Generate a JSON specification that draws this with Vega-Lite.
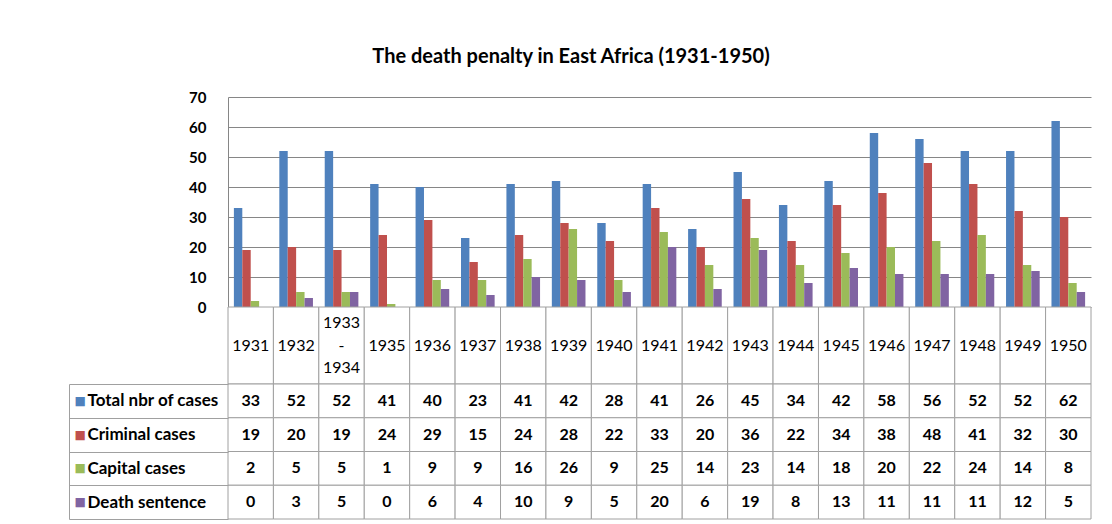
{
  "$schema": "https://vega.github.io/schema/vega-lite/v6.json",
  "background": "white",
  "padding": {"left": 68, "top": 47, "right": 22, "bottom": 2},
  "bounds": "flush",
  "title": {"text": "The death penalty in East Africa (1931-1950)", "fontSize": 20, "font": "Lato", "fontWeight": "bold", "color": "black", "offset": 23, "anchor": "middle", "dx": -9},
  "config": {"font": "Lato", "view": {"stroke": null}},
  "spacing": 0,
  "data": {"values": [
    {"year": "1931", "series": "Total nbr of cases", "value": 33},
    {"year": "1931", "series": "Criminal cases", "value": 19},
    {"year": "1931", "series": "Capital cases", "value": 2},
    {"year": "1931", "series": "Death sentence", "value": 0},
    {"year": "1932", "series": "Total nbr of cases", "value": 52},
    {"year": "1932", "series": "Criminal cases", "value": 20},
    {"year": "1932", "series": "Capital cases", "value": 5},
    {"year": "1932", "series": "Death sentence", "value": 3},
    {"year": "1933 - 1934", "series": "Total nbr of cases", "value": 52},
    {"year": "1933 - 1934", "series": "Criminal cases", "value": 19},
    {"year": "1933 - 1934", "series": "Capital cases", "value": 5},
    {"year": "1933 - 1934", "series": "Death sentence", "value": 5},
    {"year": "1935", "series": "Total nbr of cases", "value": 41},
    {"year": "1935", "series": "Criminal cases", "value": 24},
    {"year": "1935", "series": "Capital cases", "value": 1},
    {"year": "1935", "series": "Death sentence", "value": 0},
    {"year": "1936", "series": "Total nbr of cases", "value": 40},
    {"year": "1936", "series": "Criminal cases", "value": 29},
    {"year": "1936", "series": "Capital cases", "value": 9},
    {"year": "1936", "series": "Death sentence", "value": 6},
    {"year": "1937", "series": "Total nbr of cases", "value": 23},
    {"year": "1937", "series": "Criminal cases", "value": 15},
    {"year": "1937", "series": "Capital cases", "value": 9},
    {"year": "1937", "series": "Death sentence", "value": 4},
    {"year": "1938", "series": "Total nbr of cases", "value": 41},
    {"year": "1938", "series": "Criminal cases", "value": 24},
    {"year": "1938", "series": "Capital cases", "value": 16},
    {"year": "1938", "series": "Death sentence", "value": 10},
    {"year": "1939", "series": "Total nbr of cases", "value": 42},
    {"year": "1939", "series": "Criminal cases", "value": 28},
    {"year": "1939", "series": "Capital cases", "value": 26},
    {"year": "1939", "series": "Death sentence", "value": 9},
    {"year": "1940", "series": "Total nbr of cases", "value": 28},
    {"year": "1940", "series": "Criminal cases", "value": 22},
    {"year": "1940", "series": "Capital cases", "value": 9},
    {"year": "1940", "series": "Death sentence", "value": 5},
    {"year": "1941", "series": "Total nbr of cases", "value": 41},
    {"year": "1941", "series": "Criminal cases", "value": 33},
    {"year": "1941", "series": "Capital cases", "value": 25},
    {"year": "1941", "series": "Death sentence", "value": 20},
    {"year": "1942", "series": "Total nbr of cases", "value": 26},
    {"year": "1942", "series": "Criminal cases", "value": 20},
    {"year": "1942", "series": "Capital cases", "value": 14},
    {"year": "1942", "series": "Death sentence", "value": 6},
    {"year": "1943", "series": "Total nbr of cases", "value": 45},
    {"year": "1943", "series": "Criminal cases", "value": 36},
    {"year": "1943", "series": "Capital cases", "value": 23},
    {"year": "1943", "series": "Death sentence", "value": 19},
    {"year": "1944", "series": "Total nbr of cases", "value": 34},
    {"year": "1944", "series": "Criminal cases", "value": 22},
    {"year": "1944", "series": "Capital cases", "value": 14},
    {"year": "1944", "series": "Death sentence", "value": 8},
    {"year": "1945", "series": "Total nbr of cases", "value": 42},
    {"year": "1945", "series": "Criminal cases", "value": 34},
    {"year": "1945", "series": "Capital cases", "value": 18},
    {"year": "1945", "series": "Death sentence", "value": 13},
    {"year": "1946", "series": "Total nbr of cases", "value": 58},
    {"year": "1946", "series": "Criminal cases", "value": 38},
    {"year": "1946", "series": "Capital cases", "value": 20},
    {"year": "1946", "series": "Death sentence", "value": 11},
    {"year": "1947", "series": "Total nbr of cases", "value": 56},
    {"year": "1947", "series": "Criminal cases", "value": 48},
    {"year": "1947", "series": "Capital cases", "value": 22},
    {"year": "1947", "series": "Death sentence", "value": 11},
    {"year": "1948", "series": "Total nbr of cases", "value": 52},
    {"year": "1948", "series": "Criminal cases", "value": 41},
    {"year": "1948", "series": "Capital cases", "value": 24},
    {"year": "1948", "series": "Death sentence", "value": 11},
    {"year": "1949", "series": "Total nbr of cases", "value": 52},
    {"year": "1949", "series": "Criminal cases", "value": 32},
    {"year": "1949", "series": "Capital cases", "value": 14},
    {"year": "1949", "series": "Death sentence", "value": 12},
    {"year": "1950", "series": "Total nbr of cases", "value": 62},
    {"year": "1950", "series": "Criminal cases", "value": 30},
    {"year": "1950", "series": "Capital cases", "value": 8},
    {"year": "1950", "series": "Death sentence", "value": 5}
  ]},
  "vconcat": [
    {
      "width": 863,
      "height": 210,
      "mark": {"type": "bar"},
      "encoding": {
        "x": {"field": "year", "type": "nominal", "sort": null, "scale": {"paddingInner": 0, "paddingOuter": 0}, "axis": null},
        "xOffset": {"field": "series", "type": "nominal", "sort": ["Total nbr of cases", "Criminal cases", "Capital cases", "Death sentence"], "scale": {"paddingInner": 0, "paddingOuter": 0.7}},
        "y": {"field": "value", "type": "quantitative", "scale": {"domain": [0, 70], "nice": false},
          "axis": {"values": [0, 10, 20, 30, 40, 50, 60, 70], "title": null, "grid": true, "gridColor": "#868686", "domainColor": "#868686", "ticks": false, "labelPadding": 22, "labelFontWeight": "bold", "labelFontSize": 15, "labelColor": "black"}},
        "color": {"field": "series", "type": "nominal", "legend": null,
          "scale": {"domain": ["Total nbr of cases", "Criminal cases", "Capital cases", "Death sentence"], "range": ["#4F81BD", "#C0504D", "#9BBB59", "#8064A2"]}}
      }
    },
    {
      "width": 863,
      "height": 77,
      "transform": [{"filter": "datum.series === 'Total nbr of cases'"}],
      "layer": [
        {
          "mark": {"type": "rect", "fill": "white", "stroke": "#a0a0a0", "strokeWidth": 1},
          "encoding": {"x": {"field": "year", "type": "nominal", "sort": null, "scale": {"paddingInner": 0, "paddingOuter": 0}, "axis": null}}
        },
        {
          "transform": [{"filter": "datum.year !== '1933 - 1934'"}],
          "mark": {"type": "text", "fontSize": 16, "color": "black"},
          "encoding": {
            "x": {"field": "year", "type": "nominal", "sort": null, "scale": {"paddingInner": 0, "paddingOuter": 0}, "axis": null},
            "text": {"field": "year"}
          }
        },
        {
          "transform": [{"filter": "datum.year === '1933 - 1934'"}],
          "mark": {"type": "text", "lineBreak": " ", "fontSize": 16, "lineHeight": 22.5, "dy": -22.5, "color": "black"},
          "encoding": {
            "x": {"field": "year", "type": "nominal", "sort": null, "scale": {"paddingInner": 0, "paddingOuter": 0}, "axis": null},
            "text": {"field": "year"}
          }
        }
      ]
    },
    {
      "width": 863,
      "height": 135,
      "layer": [
        {
          "mark": {"type": "rect", "fill": "white", "stroke": "#a0a0a0", "strokeWidth": 1},
          "encoding": {
            "x": {"field": "year", "type": "nominal", "sort": null, "scale": {"paddingInner": 0, "paddingOuter": 0}, "axis": null},
            "y": {"field": "series", "type": "nominal", "sort": ["Total nbr of cases", "Criminal cases", "Capital cases", "Death sentence"], "scale": {"paddingInner": 0, "paddingOuter": 0},
              "axis": {"orient": "left", "title": null, "domain": false, "ticks": true, "tickBand": "extent", "tickSize": 159, "tickColor": "#a0a0a0", "labelAlign": "left", "labelPadding": -18, "labelFontSize": 17, "labelFontWeight": "bold", "labelColor": "black", "grid": false, "labelLimit": 200}}
          }
        },
        {
          "mark": {"type": "text", "fontWeight": "bold", "fontSize": 16, "color": "black"},
          "encoding": {
            "x": {"field": "year", "type": "nominal", "sort": null, "scale": {"paddingInner": 0, "paddingOuter": 0}, "axis": null},
            "y": {"field": "series", "type": "nominal", "sort": ["Total nbr of cases", "Criminal cases", "Capital cases", "Death sentence"], "scale": {"paddingInner": 0, "paddingOuter": 0},
              "axis": {"orient": "left", "title": null, "offset": 159, "domain": true, "domainColor": "#a0a0a0", "ticks": false, "grid": false, "labelExpr": "'■'", "labelAlign": "left", "labelPadding": -5, "labelFontSize": 12, "labelFont": "DejaVu Sans",
                "labelColor": {"condition": [
                  {"test": "datum.value === 'Total nbr of cases'", "value": "#4F81BD"},
                  {"test": "datum.value === 'Criminal cases'", "value": "#C0504D"},
                  {"test": "datum.value === 'Capital cases'", "value": "#9BBB59"}
                ], "value": "#8064A2"}}},
            "text": {"field": "value", "type": "quantitative"}
          }
        }
      ],
      "resolve": {"axis": {"y": "independent"}}
    }
  ]
}
